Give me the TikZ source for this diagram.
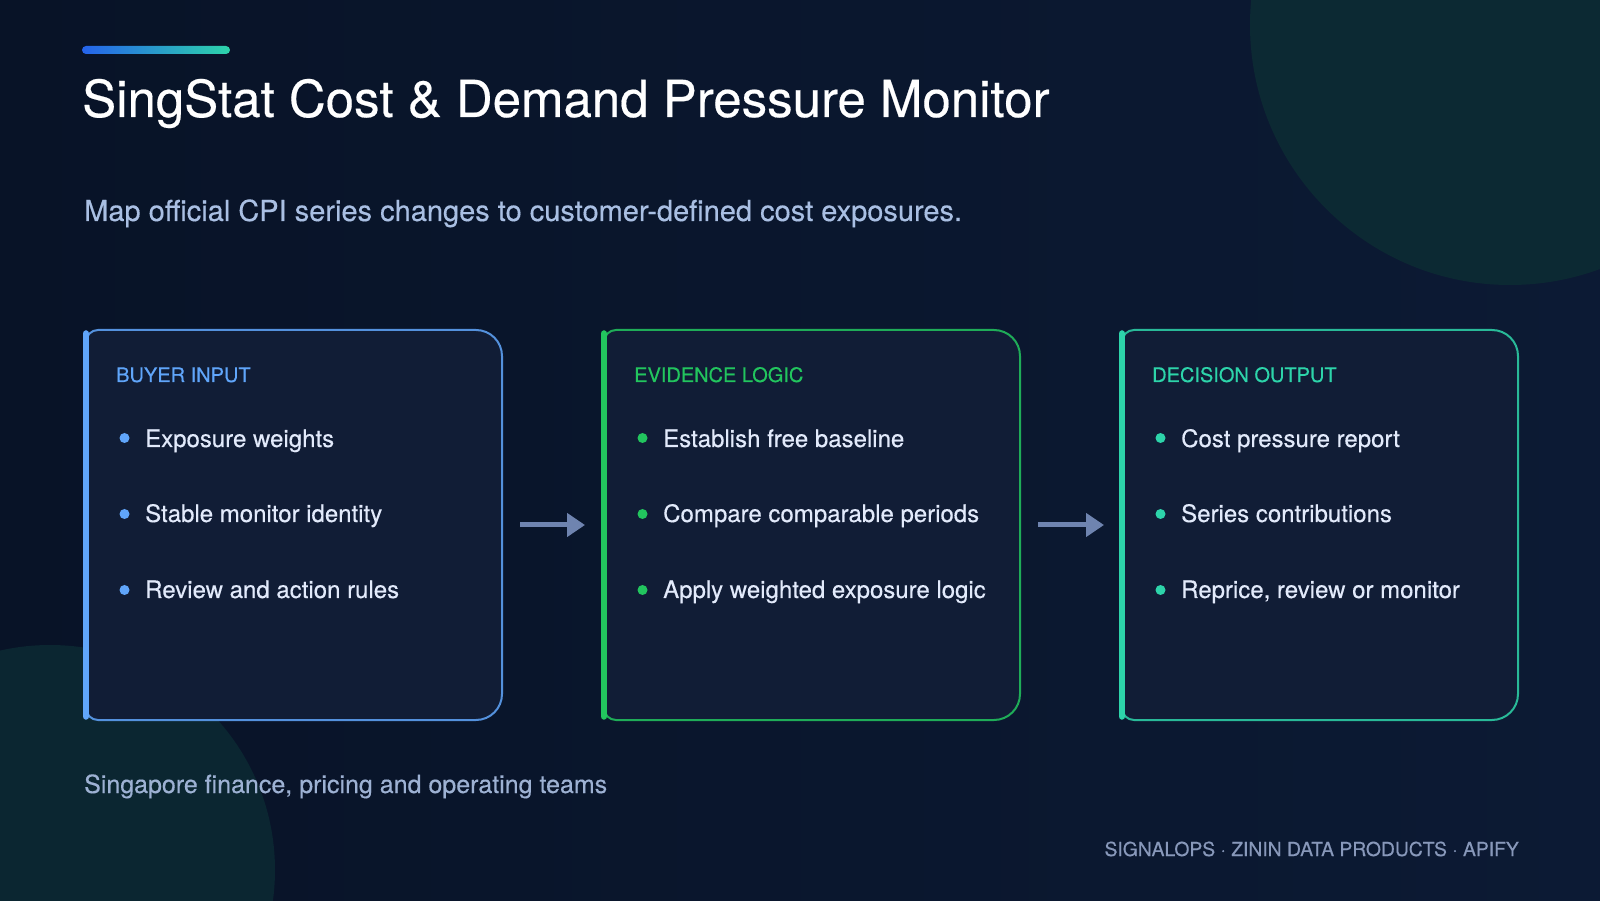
\documentclass[tikz,border=0pt]{standalone}
\usepackage{fontspec}
\setmainfont{TeX Gyre Heros}
\newfontfamily\medfont[FakeBold=0.35]{TeX Gyre Heros}
\usetikzlibrary{arrows.meta,calc}
\definecolor{bgA}{HTML}{081327}
\definecolor{bgB}{HTML}{0C1A34}
\definecolor{circ}{HTML}{0C2933}
\definecolor{cardfill}{HTML}{111D36}
\definecolor{cblue}{HTML}{60A5FA}
\definecolor{cgreen}{HTML}{22C55E}
\definecolor{cteal}{HTML}{2DD4AA}
\definecolor{subc}{HTML}{A9BFE3}
\definecolor{itemc}{HTML}{E2EAFB}
\definecolor{footc}{HTML}{9DB1D3}
\definecolor{credc}{HTML}{8898BA}
\definecolor{arrowc}{HTML}{6F84B0}
\definecolor{gradL}{HTML}{2563EB}
\definecolor{gradR}{HTML}{2DD4AA}
\newcommand\fs[1]{\fontsize{#1}{#1}\selectfont}
\newcommand\cardframe[2]{%
  \path[fill=cardfill] ([yshift=-12pt]#1.north west) arc[start angle=180,end angle=90,radius=12pt]
    -- ([xshift=-26pt]#1.north east) arc[start angle=90,end angle=0,radius=26pt]
    -- ([yshift=26pt]#1.south east) arc[start angle=0,end angle=-90,radius=26pt]
    -- ([xshift=12pt]#1.south west) arc[start angle=270,end angle=180,radius=12pt] -- cycle;
  \draw[#2!85!cardfill, line width=2pt] ([yshift=-12pt]#1.north west) arc[start angle=180,end angle=90,radius=12pt]
    -- ([xshift=-26pt]#1.north east) arc[start angle=90,end angle=0,radius=26pt]
    -- ([yshift=26pt]#1.south east) arc[start angle=0,end angle=-90,radius=26pt]
    -- ([xshift=12pt]#1.south west) arc[start angle=270,end angle=180,radius=12pt];
  \draw[#2, line width=6.5pt, line cap=round] ([yshift=-3.5pt]#1.north west) -- ([yshift=3.5pt]#1.south west);
}
\newcommand\cardtext[6]{% node, color, heading, item1, item2, item3
  \node[head, text=#2] (#1h) at ($(#1.north west)+(30,-52)$) {#3};
  \fill[#2] ($(#1.north west)+(38.5,-108)$) circle[radius=5pt];
  \node[item] (#1i1) at ($(#1.north west)+(59,-117)$) {#4};
  \fill[#2] ($(#1.north west)+(38.5,-184)$) circle[radius=5pt];
  \node[item] (#1i2) at ($(#1.north west)+(59,-192)$) {#5};
  \fill[#2] ($(#1.north west)+(38.5,-260)$) circle[radius=5pt];
  \node[item] (#1i3) at ($(#1.north west)+(59,-268)$) {#6};
}
\begin{document}
\begin{tikzpicture}[x=1pt,y=1pt,
  card/.style={rectangle, inner sep=0pt, outer sep=0pt, minimum height=390pt, anchor=north west},
  head/.style={anchor=base west, inner sep=0pt, font=\medfont\fs{20}},
  item/.style={anchor=base west, inner sep=0pt, text=itemc, font=\medfont\fs{24}},
  txt/.style={inner sep=0pt},
  flow/.style={draw=arrowc, line width=5pt, -{Triangle[length=18pt,width=23pt]}},
]
\useasboundingbox (0,0) rectangle (1600,900);
\begin{scope}
  \clip (0,0) rectangle (1600,900);
  \shade[left color=bgA, right color=bgB] (0,0) rectangle (1600,900);
  \fill[circ] (1510,875) circle[radius=260pt];
  \fill[circ!85!bgA] (50,30) circle[radius=225pt];
\end{scope}
\shade[left color=gradL, right color=gradR, rounded corners=4pt] (82,846) rectangle (230,854);
\node[txt, anchor=base west, text=white, font=\medfont\fs{51}] (title) at (82,783) {SingStat Cost \& Demand Pressure Monitor};
\node[txt, anchor=base west, text=subc, font=\medfont\fs{29}] (sub) at (84,679) {Map official CPI series changes to customer-defined cost exposures.};

\node[card, minimum width=416pt] (b1) at (86,570) {};
\node[card, minimum width=416pt] (b2) at (604,570) {};
\node[card, minimum width=396pt] (b3) at (1122,570) {};
\cardframe{b1}{cblue}
\cardframe{b2}{cgreen}
\cardframe{b3}{cteal}
\cardtext{b1}{cblue}{BUYER INPUT}{Exposure weights}{Stable monitor identity}{Review and action rules}
\cardtext{b2}{cgreen}{EVIDENCE LOGIC}{Establish free baseline}{Compare comparable periods}{Apply weighted exposure logic}
\cardtext{b3}{cteal}{DECISION OUTPUT}{Cost pressure report}{Series contributions}{Reprice, review or monitor}

\draw[flow, shorten <=18pt, shorten >=19pt] (b1.east) -- (b2.west);
\draw[flow, shorten <=18pt, shorten >=18pt] (b2.east) -- (b3.west);

\node[txt, anchor=base west, text=footc, font=\medfont\fs{25}] (aud) at (84,107) {Singapore finance, pricing and operating teams};
\node[txt, anchor=base east, text=credc, font=\medfont\fs{19.3}] (cred) at (1519,44) {SIGNALOPS · ZININ DATA PRODUCTS · APIFY};
\end{tikzpicture}
\end{document}
